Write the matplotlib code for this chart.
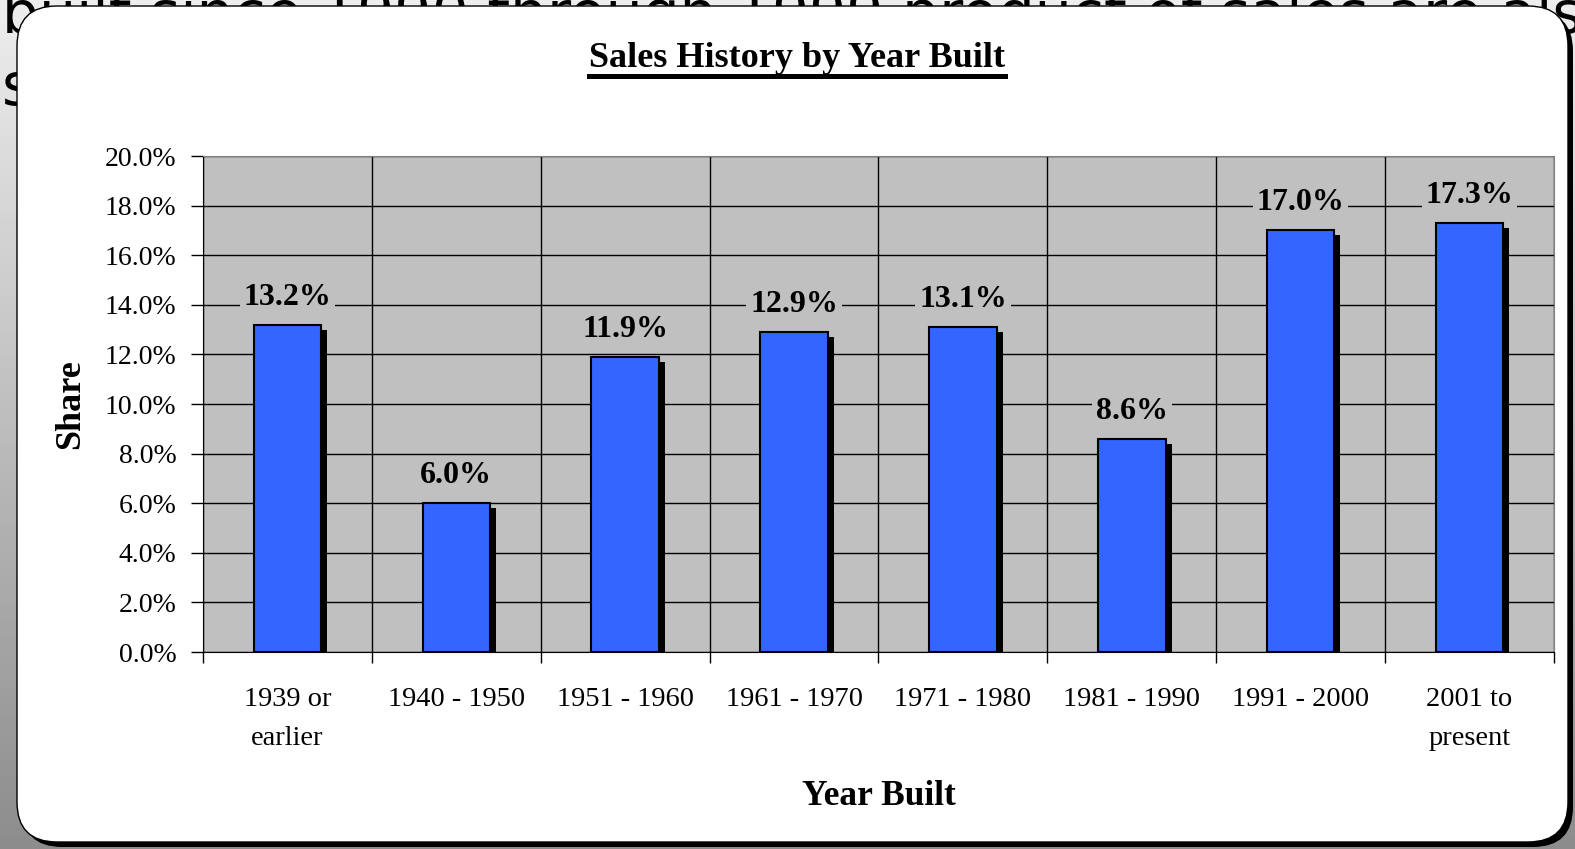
import matplotlib.pyplot as plt
import matplotlib.transforms as mtransforms
from matplotlib.patches import FancyBboxPatch
from matplotlib.lines import Line2D
import numpy as np

# Share of sales by period of construction
periods = ["1939 or\nearlier", "1940 - 1950", "1951 - 1960", "1961 - 1970",
           "1971 - 1980", "1981 - 1990", "1991 - 2000", "2001 to\npresent"]
shares = [13.2, 6.0, 11.9, 12.9, 13.1, 8.6, 17.0, 17.3]
y_ticks = [0, 2, 4, 6, 8, 10, 12, 14, 16, 18, 20]

W, H = 1575, 849
fig = plt.figure(figsize=(W / 100, H / 100), dpi=100)

# slide background: grey gradient, slide text, rounded white panel
bg = fig.add_axes([0, 0, 1, 1], zorder=0)
bg.set_xlim(0, W)
bg.set_ylim(H, 0)
bg.axis("off")
grad = np.linspace(0.93, 0.55, 256).reshape(-1, 1)
bg.imshow(grad, cmap="gray", vmin=0, vmax=1, extent=[0, W, H, 0], aspect="auto")
bg.text(2, 33, "built since 1990 through 1999 product of sales are also",
        fontsize=42, family="DejaVu Sans", color="black", va="baseline")
bg.text(2, 105, "significant", fontsize=42, family="DejaVu Sans",
        color="black", va="baseline")
bg.add_patch(FancyBboxPatch((22, 11), 1551, 836,
                            boxstyle="round,pad=0,rounding_size=40",
                            fc="black", ec="none", zorder=3))
bg.add_patch(FancyBboxPatch((17, 6), 1551, 836,
                            boxstyle="round,pad=0,rounding_size=40",
                            fc="white", ec="black", lw=1, zorder=4))

serif = "Liberation Serif"

ax = fig.add_axes([203 / W, 1 - 652 / H, 1351 / W, 496 / H], zorder=2)
ax.set_facecolor("#C0C0C0")

x = np.arange(len(periods))
bw = 0.4
shadow = mtransforms.offset_copy(ax.transData, fig=fig, x=6, y=-5, units="dots")
ax.bar(x, shares, bw, color="black", transform=shadow, zorder=2)
ax.bar(x, shares, bw, color="#3366FF", edgecolor="black", lw=1.5, zorder=3)

for xi, v in zip(x, shares):
    ax.annotate(f"{v:.1f}%", (xi, v), xytext=(0, 14.5), textcoords="offset points",
                ha="center", va="baseline", fontsize=23, fontweight="bold",
                family=serif, zorder=5,
                bbox=dict(boxstyle="square,pad=0.12", fc="#C0C0C0", ec="none"))

ax.set_xlim(-0.5, len(periods) - 0.5)
ax.set_ylim(0, 20)
ax.set_yticks(y_ticks)
ax.set_yticklabels([f"{t:.1f}%" for t in y_ticks], family=serif, fontsize=20)
ax.tick_params(axis="y", length=9, width=1, pad=10, color="black")

ax.set_xticks(x)
ax.set_xticklabels(periods, family=serif, fontsize=20.5, linespacing=1.75)
ax.set_xticks(np.arange(len(periods) + 1) - 0.5, minor=True)
ax.tick_params(axis="x", which="major", length=0, pad=25)
ax.tick_params(axis="x", which="minor", length=8, width=1, color="black")

ax.set_axisbelow(True)
ax.grid(axis="y", color="black", lw=1)
ax.grid(axis="x", which="minor", color="black", lw=1)
for s in ["top", "right"]:
    ax.spines[s].set_color("#808080")
for s in ["left", "bottom"]:
    ax.spines[s].set_color("black")

ax.set_xlabel("Year Built", family=serif, fontsize=25.5, fontweight="bold")
ax.xaxis.set_label_coords(0.5, -0.292)
ax.xaxis.label.set_va("center")
ax.set_ylabel("Share", family=serif, fontsize=26, fontweight="bold")
ax.yaxis.set_label_coords(-0.098, 0.5)
ax.yaxis.label.set_va("center")

# underlined title
title = fig.text(0.506, 1 - 67 / H, "Sales History by Year Built", ha="center",
                 va="baseline", family=serif, fontsize=26, fontweight="bold", zorder=5)
r = fig.canvas.get_renderer()
tb = title.get_window_extent(r)
uy = 1 - 75.5 / H
fig.add_artist(Line2D([tb.x0 / W, tb.x1 / W], [uy, uy], color="black", lw=3.6, zorder=5))

fig.savefig("out.png", dpi=100)
